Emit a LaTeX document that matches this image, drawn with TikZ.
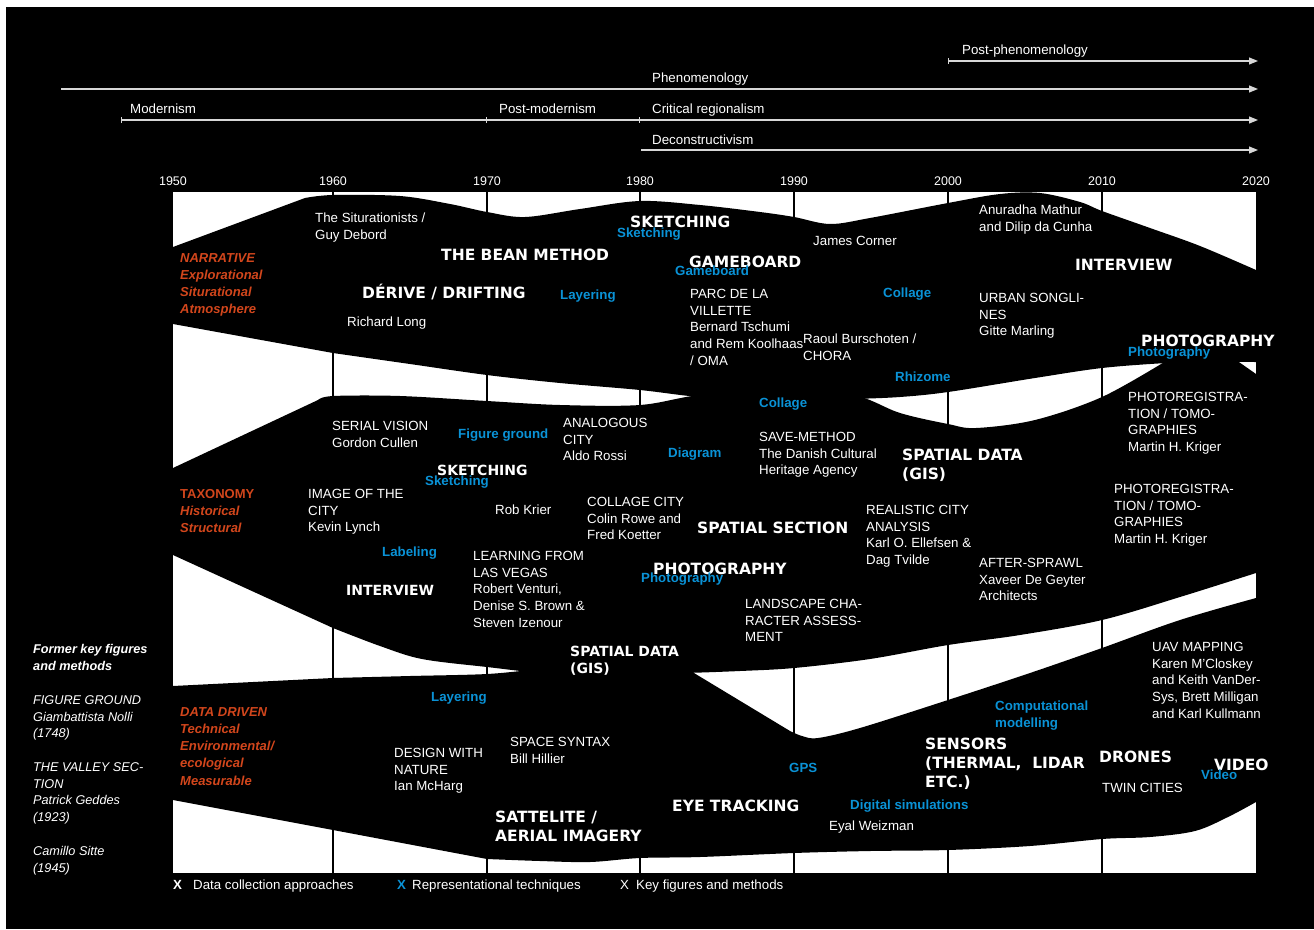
\documentclass[tikz,border=0pt]{standalone}
\usepackage{fontspec}
\setmainfont{Liberation Sans}
\newfontfamily\headfont{DejaVu Sans}
\usetikzlibrary{arrows.meta}
\definecolor{techblue}{RGB}{10,146,214}
\definecolor{catorange}{RGB}{210,70,28}
\definecolor{tlgray}{RGB}{215,215,215}
\begin{document}
\begin{tikzpicture}[x=1pt,y=-1pt,
 kf/.style={font=\fontsize{13.3}{16.7}\selectfont, text=white, align=left, anchor=north west, inner sep=0pt, yshift=5pt},
 hd/.style={font=\headfont\bfseries\fontsize{15.5}{19}\selectfont, text=white, align=left, anchor=north west, inner sep=0pt, yshift=5.8pt},
 hds/.style={font=\headfont\bfseries\fontsize{14}{17.5}\selectfont, text=white, align=left, anchor=north west, inner sep=0pt, yshift=5.2pt},
 rt/.style={font=\bfseries\fontsize{13.3}{16.7}\selectfont, text=techblue, align=left, anchor=north west, inner sep=0pt, yshift=4.9pt},
 cat/.style={font=\bfseries\itshape\fontsize{13}{17.2}\selectfont, text=catorange, align=left, anchor=north west, inner sep=0pt, yshift=4.8pt},
 old/.style={font=\itshape\fontsize{12.7}{16.7}\selectfont, text=white, align=left, anchor=north west, inner sep=0pt, yshift=4.7pt},
 tlab/.style={font=\fontsize{13.3}{16}\selectfont, text=white, anchor=north west, inner sep=0pt, yshift=5pt},
 yr/.style={font=\fontsize{12.5}{15}\selectfont, text=white, inner sep=0pt},
 tline/.style={draw=tlgray, line width=1.1pt},
 band/.style={fill=black},
]
\useasboundingbox (0,0) rectangle (1314,929);
\fill[white] (0,0) rectangle (1314,929);
\fill[black] (6,7) rectangle (1314,929);

% ---------- timeline of movements ----------
\coordinate (ppA) at (948,61);  \coordinate (ppB) at (1258,61);
\coordinate (phA) at (61,89);   \coordinate (phB) at (1258,89);
\coordinate (moA) at (121,120); \coordinate (moB) at (487,120);
\coordinate (pmB) at (640,120); \coordinate (crB) at (1258,120);
\coordinate (deA) at (641,150); \coordinate (deB) at (1258,150);
\draw[tline, {Bar[width=6pt]}-{Triangle[length=9pt,width=7pt]}] (ppA) -- (ppB);
\draw[tline, -{Triangle[length=9pt,width=7pt]}] (phA) -- (phB);
\draw[tline, {Bar[width=6pt]}-{Bar[width=6pt]}] (moA) -- (moB);
\draw[tline, -{Bar[width=6pt]}] (moB) -- (pmB);
\draw[tline, -{Triangle[length=9pt,width=7pt]}] (pmB) -- (crB);
\draw[tline, -{Triangle[length=9pt,width=7pt]}] (deA) -- (deB);
\node[tlab] (tPP) at (962,50) {Post-phenomenology};
\node[tlab] (tPh) at (652,78) {Phenomenology};
\node[tlab] (tMo) at (130,109) {Modernism};
\node[tlab] (tPM) at (499,109) {Post-modernism};
\node[tlab] (tCR) at (652,109) {Critical regionalism};
\node[tlab] (tDe) at (652,140) {Deconstructivism};

\foreach \yv/\xv in {1950/173,1960/333,1970/487,1980/640,1990/794,2000/948,2010/1102,2020/1256}
  \node[yr] (y\yv) at (\xv,181) {\yv};

% ---------- plot field ----------
\fill[white] (173,192) rectangle (1256,873);
\foreach \xv in {333,487,640,794,948,1102}
  \draw[black, line width=1.8pt] (\xv,192) -- (\xv,873);

% band 1 : narrative
\fill[band] (173,247) -- (305,198) -- plot[smooth,tension=0.55] coordinates {(305,198) (333,195) (400,196) (450,204) (487,212) (525,217) (580,209) (640,201) (700,205) (760,212) (794,217) (830,224) (870,218) (948,203) (1000,194) (1040,193) (1080,202) (1102,211) (1150,228) (1200,246) (1256,270)}
 -- (1256,362) -- plot[smooth,tension=0.55] coordinates {(1256,362) (1200,362) (1166,363) (1102,368) (1035,378) (948,392) (900,397) (853,399) (780,401) (700,397) (640,390) (560,383) (487,375) (410,364) (333,353)}
 -- (173,324) -- cycle;

% band 2 : taxonomy
\fill[band] (173,468) -- (318,400) -- plot[smooth,tension=0.55] coordinates {(318,400) (333,396) (400,396) (487,401) (560,405) (640,405) (700,395) (780,391) (853,395) (900,413) (948,424) (976,428) (1035,420) (1102,397) (1166,361)}
 -- (1236,360) -- (1256,374) -- (1256,573)
 -- plot[smooth,tension=0.55] coordinates {(1256,573) (1180,597) (1102,620) (1020,635) (948,645) (870,659) (794,668) (740,671) (684,673) (620,674) (545,673) (487,667) (422,659) (380,646) (333,628)}
 -- (173,555) -- cycle;

% band 3 : data driven
\fill[band] (173,686) -- (333,678) -- plot[smooth,tension=0.55] coordinates {(333,678) (410,676) (487,674) (545,669) (620,667) (684,667)}
 -- (790,731) -- plot[smooth,tension=0.55] coordinates {(790,731) (802,736) (818,738) (860,728) (948,700) (1030,673) (1102,648) (1180,620) (1256,598)}
 -- (1256,802) -- plot[smooth,tension=0.55] coordinates {(1256,802) (1228,817) (1195,831) (1150,837) (1102,839) (1030,846) (948,850) (870,851) (794,853) (700,857) (640,858) (590,862) (540,861) (487,859)}
 -- (333,830) -- (173,800) -- cycle;

% ---------- band 1 texts ----------
\node[cat] (cNar) at (180,258) {NARRATIVE\\Explorational\\Siturational\\Atmosphere};
\node[kf] (kSit) at (315,218) {The Siturationists /\\Guy Debord};
\node[hd] (hBean) at (441,255) {THE BEAN METHOD};
\node[hd] (hDer) at (362,290) {DÉRIVE / DRIFTING};
\node[kf] (kLong) at (347,322) {Richard Long};
\node[rt] (rLay1) at (560,295) {Layering};
\node[hd] (hSk1) at (630,222) {SKETCHING};
\node[rt] (rSk1) at (617,233) {Sketching};
\node[kf] (kCor) at (813,241) {James Corner};
\node[hd] (hGame) at (689,262) {GAMEBOARD};
\node[rt] (rGame) at (675,271) {Gameboard};
\node[kf] (kParc) at (690,294) {PARC DE LA\\VILLETTE\\Bernard Tschumi\\and Rem Koolhaas\\/ OMA};
\node[kf] (kRaoul) at (803,339) {Raoul Burschoten /\\CHORA};
\node[rt] (rCol1) at (883,293) {Collage};
\node[rt] (rRhi) at (895,377) {Rhizome};
\node[kf] (kMat) at (979,210) {Anuradha Mathur\\and Dilip da Cunha};
\node[hd] (hInt1) at (1075,265) {INTERVIEW};
\node[kf] (kSong) at (979,298) {URBAN SONGLI-\\NES\\Gitte Marling};
\node[hd] (hPh1) at (1141,341) {PHOTOGRAPHY};
\node[rt] (rPh1) at (1128,352) {Photography};

% ---------- band 2 texts ----------
\node[cat] (cTax) at (180,494) {{\upshape TAXONOMY}\\Historical\\Structural};
\node[kf] (kSer) at (332,426) {SERIAL VISION\\Gordon Cullen};
\node[rt] (rFig) at (458,434) {Figure ground};
\node[kf] (kAna) at (563,423) {ANALOGOUS\\CITY\\Aldo Rossi};
\node[hds] (hSk2) at (437,470) {SKETCHING};
\node[rt] (rSk2) at (425,481) {Sketching};
\node[kf] (kImg) at (308,494) {IMAGE OF THE\\CITY\\Kevin Lynch};
\node[kf] (kKri) at (495,510) {Rob Krier};
\node[kf] (kColC) at (587,502) {COLLAGE CITY\\Colin Rowe and\\Fred Koetter};
\node[rt] (rLab) at (382,552) {Labeling};
\node[hds] (hInt2) at (346,590) {INTERVIEW};
\node[kf] (kLV) at (473,556) {LEARNING FROM\\LAS VEGAS\\Robert Venturi,\\Denise S. Brown \&\\Steven Izenour};
\node[rt] (rCol2) at (759,403) {Collage};
\node[rt] (rDia) at (668,453) {Diagram};
\node[kf] (kSave) at (759,437) {SAVE-METHOD\\The Danish Cultural\\Heritage Agency};
\node[hd] (hGis1) at (902,455) {SPATIAL DATA\\(GIS)};
\node[hd] (hSec) at (697,528) {SPATIAL SECTION};
\node[kf] (kReal) at (866,510) {REALISTIC CITY\\ANALYSIS\\Karl O. Ellefsen \&\\Dag Tvilde};
\node[hd] (hPh2) at (653,569) {PHOTOGRAPHY};
\node[rt] (rPh2) at (641,578) {Photography};
\node[kf] (kLand) at (745,604) {LANDSCAPE CHA-\\RACTER ASSESS-\\MENT};
\node[kf] (kAfter) at (979,563) {AFTER-SPRAWL\\Xaveer De Geyter\\Architects};
\node[kf] (kPr1) at (1128,397) {PHOTOREGISTRA-\\TION / TOMO-\\GRAPHIES\\Martin H. Kriger};
\node[kf] (kPr2) at (1114,489) {PHOTOREGISTRA-\\TION / TOMO-\\GRAPHIES\\Martin H. Kriger};
\node[hds] (hGis2) at (570,651) {SPATIAL DATA\\(GIS)};

% ---------- band 3 texts ----------
\node[cat] (cDat) at (180,712) {DATA DRIVEN\\Technical\\Environmental/\\ecological\\Measurable};
\node[rt] (rLay2) at (431,697) {Layering};
\node[kf] (kDes) at (394,753) {DESIGN WITH\\NATURE\\Ian McHarg};
\node[kf] (kSpace) at (510,742) {SPACE SYNTAX\\Bill Hillier};
\node[hd] (hSat) at (495,817) {SATTELITE /\\AERIAL IMAGERY};
\node[hd] (hEye) at (672,806) {EYE TRACKING};
\node[rt] (rGps) at (789,768) {GPS};
\node[rt] (rDig) at (850,805) {Digital simulations};
\node[kf] (kEyal) at (829,826) {Eyal Weizman};
\node[rt] (rComp) at (995,706) {Computational\\modelling};
\node[hd] (hSen) at (925,744) {SENSORS\\(THERMAL,~ LIDAR\\ETC.)};
\node[hd] (hDro) at (1099,757) {DRONES};
\node[kf] (kTwin) at (1102,788) {TWIN CITIES};
\node[hd] (hVid) at (1214,765) {VIDEO};
\node[rt] (rVid) at (1201,775) {Video};
\node[kf] (kUav) at (1152,647) {UAV MAPPING\\Karen M'Closkey\\and Keith VanDer-\\Sys, Brett Milligan\\and Karl Kullmann};

% ---------- former key figures ----------
\node[old, font=\bfseries\itshape\fontsize{12.7}{16.7}\selectfont] (oHead) at (33,649) {Former key figures\\and methods};
\node[old] (oNolli) at (33,700) {FIGURE GROUND\\Giambattista Nolli\\(1748)};
\node[old] (oGed) at (33,767) {THE VALLEY SEC-\\TION\\Patrick Geddes\\(1923)};
\node[old] (oSit) at (33,851) {Camillo Sitte\\(1945)};

% ---------- legend ----------
\node[kf, font=\bfseries\fontsize{13.3}{16}\selectfont] (lX1) at (173,885) {X};
\node[kf] (lT1) at (193,885) {Data collection approaches};
\node[kf, text=techblue, font=\bfseries\fontsize{13.3}{16}\selectfont] (lX2) at (397,885) {X};
\node[kf] (lT2) at (412,885) {Representational techniques};
\node[kf] (lX3) at (620,885) {X};
\node[kf] (lT3) at (636,885) {Key figures and methods};
\end{tikzpicture}
\end{document}
